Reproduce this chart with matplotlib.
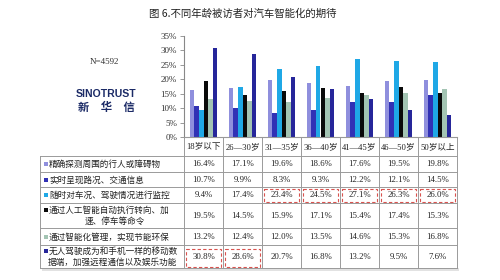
import matplotlib
matplotlib.use('Agg')
import matplotlib.pyplot as plt
from matplotlib.patches import Rectangle

# ---------------- data ----------------
categories = ['18岁以下', '26—30岁', '31—35岁', '36—40岁', '41—45岁', '46—50岁', '50岁以上']
series_names = [
    '精确探测周围的行人或障碍物',
    '实时呈现路况、交通信息',
    '随时对车况、驾驶情况进行监控',
    '通过人工智能自动执行转向、加\n速、停车等命令',
    '通过智能化管理，实现节能环保',
    '无人驾驶成为和手机一样的移动数\n据端，加强远程通信以及娱乐功能',
]
s_detect = [16.4, 17.1, 19.6, 18.6, 17.6, 19.5, 19.8]
s_traffic = [10.7, 9.9, 8.3, 9.3, 12.2, 12.1, 14.5]
s_monitor = [9.4, 17.4, 23.4, 24.5, 27.1, 26.3, 26.0]
s_ai = [19.5, 14.5, 15.9, 17.1, 15.4, 17.4, 15.3]
s_energy = [13.2, 12.4, 12.0, 13.5, 14.6, 15.3, 16.8]
s_mobile = [30.8, 28.6, 20.7, 16.8, 13.2, 9.5, 7.6]
series = [s_detect, s_traffic, s_monitor, s_ai, s_energy, s_mobile]
yticks = [0, 5, 10, 15, 20, 25, 30, 35]
title = '图 6.不同年龄被访者对汽车智能化的期待'
sample_note = 'N=4592'
# highlighted cells (series index, category index)
highlights = [(2, 2), (2, 3), (2, 4), (2, 5), (2, 6), (5, 0), (5, 1)]

colors = ['#8F8FDD', '#3131B5', '#1FA8E6', '#0A0A0A', '#A3C4B3', '#26269A']

CJK = ['Noto Sans CJK SC', 'DejaVu Sans']
SERIF_CJK = ['Liberation Serif', 'Noto Sans CJK SC']

W, H = 500, 280
fig = plt.figure(figsize=(W / 100, H / 100), dpi=100)
fig.patch.set_facecolor('white')

# overlay axes in pixel coordinates for the table and texts
ov = fig.add_axes([0, 0, 1, 1])
ov.set_xlim(0, W)
ov.set_ylim(H, 0)
ov.axis('off')
ov.patch.set_alpha(0)

# bar chart axes
x0, x1 = 184, 457
y_top, y_bot = 36, 137
ax = fig.add_axes([x0 / W, 1 - y_bot / H, (x1 - x0) / W, (y_bot - y_top) / H])
ax.set_xlim(-0.5, len(categories) - 0.5)
ax.set_ylim(0, 35)
bw = 0.118
n = len(series)
for j, vals in enumerate(series):
    xs = [i + (j - (n - 1) / 2) * bw for i in range(len(categories))]
    ax.bar(xs, vals, width=bw, color=colors[j], edgecolor='none')
ax.set_yticks(yticks)
ax.set_yticklabels([f'{v}%' for v in yticks], fontfamily='Liberation Serif', fontsize=6.5, color='#333333')
ax.set_xticks([])
for s in ['top', 'right']:
    ax.spines[s].set_visible(False)
ax.spines['left'].set_color('#888888')
ax.spines['bottom'].set_color('#999999')
ax.tick_params(axis='y', length=3, width=0.6, color='#888888', pad=2)
ax.patch.set_alpha(0)

# title and annotations
ov.text(243, 14, title, ha='center', va='center', fontsize=7.5, family=CJK, color='#222222')
ov.text(104, 62, sample_note, ha='center', va='center', fontsize=6.5, family='Liberation Serif', color='#333333')
ov.text(106, 94, 'SINOTRUST', ha='center', va='center', fontsize=7.6, family='Liberation Sans',
        fontweight='bold', color='#1B2A66')
ov.text(106, 107, '新　华　信', ha='center', va='center', fontsize=8.2, family=CJK,
        fontweight='bold', color='#1B2A66')

# table geometry
cols = [x0 + 39 * i for i in range(len(categories) + 1)]
rows = [137, 156, 172, 187, 203, 228, 245, 268]
lc = '#9A9A9A'
lw = 0.7
tleft = 40
# shadow
ov.add_patch(Rectangle((tleft + 2, rows[-1]), x1 - tleft, 3, color='#E2E2E2', lw=0))
# horizontal lines
for k, y in enumerate(rows):
    xa = x0 if k == 0 else tleft
    ov.plot([xa, x1], [y, y], color=lc, lw=lw)
# vertical lines
for c in cols:
    ov.plot([c, c], [rows[0], rows[-1]], color=lc, lw=lw)
ov.plot([tleft, tleft], [rows[1], rows[-1]], color=lc, lw=lw)

# header row
for i, cat in enumerate(categories):
    ov.text((cols[i] + cols[i + 1]) / 2, (rows[0] + rows[1]) / 2 + 0.5, cat, ha='center', va='center',
            fontsize=6.2, family=SERIF_CJK, color='#222222')

# body rows
lfs = 6.2
for j, name in enumerate(series_names):
    ya, yb = rows[j + 1], rows[j + 2]
    lines = name.split('\n')
    if len(lines) == 1:
        yc = (ya + yb) / 2
        ov.add_patch(Rectangle((43.5, yc - 2), 4, 4, color=colors[j], lw=0))
        ov.text(49, yc + 0.3, lines[0], ha='left', va='center', fontsize=lfs, family=CJK, color='#222222')
    else:
        yl1 = ya + (yb - ya) * 0.28
        yl2 = ya + (yb - ya) * 0.72
        ov.add_patch(Rectangle((43.5, yl1 - 2), 4, 4, color=colors[j], lw=0))
        ov.text(49, yl1 + 0.3, lines[0], ha='left', va='center', fontsize=lfs, family=CJK, color='#222222')
        if j == 3:
            ov.text(115, yl2 + 0.3, lines[1], ha='center', va='center', fontsize=lfs, family=CJK, color='#222222')
        else:
            ov.text(48, yl2 + 0.3, lines[1], ha='left', va='center', fontsize=lfs, family=CJK, color='#222222')
    for i, v in enumerate(series[j]):
        ov.text((cols[i] + cols[i + 1]) / 2, (ya + yb) / 2 + 0.3, f'{v:.1f}%', ha='center', va='center',
                fontsize=6.3, family='Liberation Serif', color='#222222')

# red dashed highlight boxes
for (j, i) in highlights:
    ya, yb = rows[j + 1], rows[j + 2]
    top_inset = 4 if j == 5 else 1.5
    ov.add_patch(Rectangle((cols[i] + 2, ya + top_inset), 35, (yb - ya) - top_inset - 1.5,
                           fill=False, edgecolor='#D9534F', lw=0.8, linestyle=(0, (3, 2))))

fig.savefig('out.png', dpi=100, facecolor='white')
